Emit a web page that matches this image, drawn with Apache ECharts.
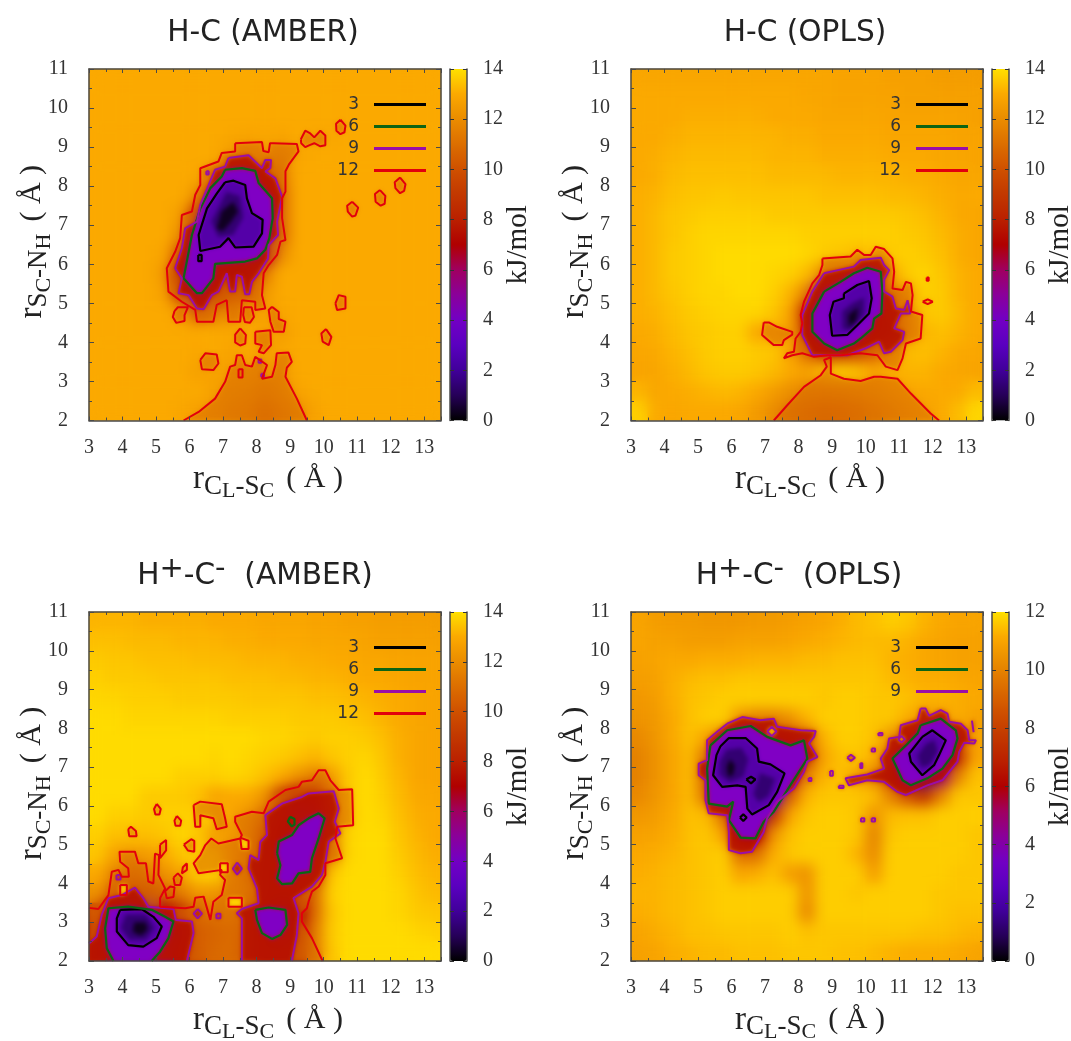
<!DOCTYPE html>
<html>
<head>
<meta charset="utf-8">
<title>PMF maps</title>
<script src="https://cdn.jsdelivr.net/npm/echarts@6/dist/echarts.min.js"></script>
<style>
html, body { margin: 0; background: #fff; }
#chart { width: 1071px; height: 1041px; }
</style>
</head>
<body>
<div id="chart"></div>
<script>
// cell centres of the free energy maps, 0.5 A wide
const xCells = [3.25,3.75,4.25,4.75,5.25,5.75,6.25,6.75,7.25,7.75,8.25,8.75,9.25,9.75,10.25,10.75,11.25,11.75,12.25,12.75,13.25];
const yCells = [2.25,2.75,3.25,3.75,4.25,4.75,5.25,5.75,6.25,6.75,7.25,7.75,8.25,8.75,9.25,9.75,10.25,10.75];
const palette = ['#000000','#260058','#40009a','#5a00c0','#7200c4','#8a009a','#a00060','#b00000','#ba2000','#c23800','#cf5000','#dc6e00','#ea8c00','#fba900','#ffe000'];

// rows run from y = 10.75 down to y = 2.25
const hcAmberGrid = [
[13,13,13,13,13,13,13,13,13,13,13,13,13,13,13,13,13,13,13,13,13],
[13,13,13,13,13,13,13,13,13,13,13,13,13,13,13,13,13,13,13,13,13],
[13,13,13,13,13,13,13,13,13,13,13,13,13,13,13,13,13,13,13,13,13],
[13,13,13,13,13,13,13,13,12.9,12.8,12.9,12.8,13,12.9,12.9,13,13,13,13,13,13],
[13,13,13,13,13,13,13,13,12.4,12,12.4,12,12.9,13,13,13,13,13,13,13,13],
[13,13,13,13,13,13,12.9,12,9,8,9.5,11.5,13,13,13,13,13,13,13,13,13],
[13,13,13,13,13,13,12,8,4.5,4.5,7,11,13,13,13,13,13,13,13,13,13],
[13,13,13,13,13,12.6,8,3.5,1,3,5,11,13,13,13,13,13,13,13,13,13],
[13,13,13,13,13,12,6,2.5,2,3,5.5,11,13,13,13,13,13,13,13,13,13],
[13,13,13,13,12.8,10,4.5,3.5,3.5,3.5,6.5,12,13,13,13,13,13,13,13,13,13],
[13,13,13,13,12.4,7,4.5,6,7,8,11.5,13,13,13,13,13,13,13,13,13,13],
[13,13,13,13,12.7,9,5,8.5,10,10.5,12.4,13,13,13,13,13,13,13,13,13,13],
[13,13,13,13,13,12.6,10.5,11.5,12,12.6,12.7,12.9,13,13,13,13,13,13,13,13,13],
[13,13,13,13,13,13,13,13,12.9,13,12.8,12.6,13,13,13,13,13,13,13,13,13],
[13,13,13,13,13,13,12.9,13,12.8,13,12.6,12.9,13,13,13,13,13,13,13,13,13],
[13,13,13,13,13,13,12.7,12.8,12.6,12.6,12.3,12.4,13,13,13,13,13,13,13,13,13],
[13,13,13,13,13,13,13,12.7,12.3,12.2,11.8,12.2,12.8,13,13,13,13,13,13,13,13],
[13,13,13,13,13,12.9,12.7,12.4,12,11.8,11.2,11.7,12.2,12.8,13,13,13,13,13,13,13]
];
const hcOplsGrid = [
[12.9,12.9,12.9,12.9,12.9,12.9,12.9,12.9,12.9,12.9,12.9,12.9,12.8,12.8,12.8,12.7,12.7,12.7,12.6,12.6,12.6],
[13,13,13,13,13,13,13,13,13,13,12.9,12.9,12.8,12.8,12.8,12.8,12.7,12.7,12.7,12.7,12.7],
[13,13,13,13.1,13.1,13.1,13.1,13.1,13,13,13,12.9,12.9,12.9,12.9,12.8,12.8,12.8,12.8,12.8,12.7],
[13,13,13.1,13.2,13.2,13.2,13.2,13.2,13.2,13.1,13.1,13,13,13,13,12.9,12.9,12.9,12.9,12.8,12.8],
[13,13.1,13.2,13.3,13.3,13.3,13.3,13.3,13.2,13.2,13.2,13.1,13.1,13.1,13.1,13,13,13,12.9,12.9,12.8],
[13,13.1,13.3,13.4,13.4,13.4,13.4,13.4,13.3,13.3,13.3,13.3,13.2,13.2,13.2,13.2,13.1,13.1,13,12.9,12.9],
[13.1,13.2,13.4,13.5,13.5,13.6,13.5,13.5,13.5,13.5,13.5,13.4,13.4,13.4,13.4,13.3,13.3,13.2,13.1,13,13],
[13.1,13.3,13.5,13.6,13.7,13.7,13.7,13.7,13.6,13.6,13.6,13.6,13.6,13.6,13.6,13.6,13.5,13.4,13.2,13,12.9],
[13.1,13.3,13.5,13.7,13.8,13.8,13.8,13.8,13.8,13.8,13.7,13.7,13.7,13.7,13.7,13.7,13.6,13.5,13.3,13.1,12.9],
[13.1,13.3,13.6,13.7,13.8,13.9,13.9,13.9,13.9,13.9,13.8,13.6,13.5,13.3,13.4,13.6,13.7,13.6,13.4,13.1,12.9],
[13.1,13.3,13.6,13.7,13.8,13.9,13.9,13.9,13.8,13.7,13.3,11.8,11,11,11.5,12.8,13.6,13.8,13.5,13.2,13],
[13.1,13.3,13.5,13.7,13.8,13.8,13.9,13.9,13.7,13.2,11.5,5,4,5,8.5,11,12.7,13.7,13.6,13.2,13],
[13.1,13.2,13.4,13.6,13.7,13.8,13.8,13.8,13.5,12.8,8,2.5,1.5,3,7,10,12,13.5,13.6,13.3,13],
[13,13.1,13.3,13.5,13.6,13.7,13.7,12.9,13,12.6,9,4,2.5,5.5,8,9,12,13.2,13.4,13.2,13],
[12.9,13,13.2,13.4,13.6,13.7,13.7,13.6,13.5,12.8,11,9,9,9.5,10.5,12.3,13.3,13.4,13.2,13,12.9],
[12.8,12.9,13.1,13.3,13.5,13.6,13.6,13.5,13.3,13,12.7,13.3,13.6,13.4,12.8,13.1,13.2,13.2,13,12.9,12.8],
[13.2,12.9,13,13.1,13.2,13.3,13.2,13,12.6,12.1,11.8,11.7,11.8,12,12.2,12.5,12.8,13,13,13,13.3],
[13.7,13,12.9,13,13,13,12.9,12.5,12,11.4,11,10.8,10.9,11.2,11.6,12,12.4,12.7,13,13.3,13.8]
];
const hhAmberGrid = [
[13.2,13.2,13.2,13.1,13.1,13.1,13.1,13,13,13,12.9,12.9,12.9,12.8,12.8,12.7,12.7,12.6,12.6,12.6,12.6],
[13.4,13.4,13.3,13.3,13.3,13.2,13.2,13.2,13.1,13.1,13,13,13,12.9,12.9,12.9,12.8,12.7,12.7,12.7,12.7],
[13.6,13.5,13.5,13.4,13.4,13.4,13.3,13.3,13.3,13.2,13.2,13.2,13.1,13.1,13,13,12.9,12.9,12.8,12.8,12.8],
[13.7,13.6,13.6,13.6,13.5,13.5,13.5,13.5,13.4,13.4,13.4,13.3,13.3,13.2,13.2,13.1,13,13,12.9,12.8,12.8],
[13.8,13.8,13.7,13.7,13.7,13.6,13.6,13.6,13.6,13.5,13.5,13.5,13.5,13.4,13.4,13.3,13.2,13.1,13,12.9,12.8],
[13.9,13.9,13.8,13.8,13.8,13.8,13.8,13.8,13.7,13.7,13.7,13.7,13.6,13.6,13.6,13.5,13.4,13.2,13,12.9,12.8],
[13.9,13.9,13.9,13.9,13.9,13.9,13.9,13.9,13.9,13.9,13.8,13.8,13.7,13.6,13.7,13.7,13.6,13.4,13.1,12.9,12.8],
[13.9,13.9,13.9,13.9,13.9,13.9,13.9,13.8,13.9,13.8,13.7,13.6,13.4,13.2,13.5,13.7,13.8,13.5,13.1,12.9,12.8],
[13.9,13.9,13.9,13.9,13.9,13.7,13.7,13.7,13.8,13.7,13.4,13,12.2,11.5,12.5,13.6,13.9,13.6,13.2,12.9,12.8],
[13.9,13.9,13.9,13.6,13.6,13.6,13.4,12.8,13,13,12.2,9,7,7,11.5,13.6,13.9,13.7,13.3,13,12.9],
[13.9,13.7,13.7,13.6,13.7,13.7,13.7,13.4,12.8,12.2,11,8,5,6,11,13.5,13.9,13.8,13.4,13.1,13],
[13.7,13.4,13.4,13.4,13.5,13.8,13.5,12.6,12.4,12,9.5,7,5,7.5,11.5,13.8,13.9,13.9,13.5,13.2,13],
[13.5,12.8,12.4,12.6,13,13.5,13.5,13.6,12.5,11.5,9,7.5,5.5,8.5,11.5,13.8,13.9,13.9,13.6,13.3,13.1],
[13,11.8,11,11.5,12.2,12.8,13.6,13.7,12.3,11.2,8.5,8,8,9,13.5,13.9,13.9,13.9,13.7,13.4,13.2],
[12.2,10.5,9.5,9.8,10.8,11.5,12.4,12.3,12,11.6,8.5,8,8.5,11,13.7,13.9,13.9,13.9,13.8,13.5,13.3],
[9.5,7,4,3.5,7,8.5,11,11.5,11.5,10.5,7.5,5,7,11,13.5,13.9,13.9,13.9,13.8,13.6,13.5],
[8,5,2,1,3,6.5,10,10.5,11,10,7.5,5.5,8,11.5,13.6,13.9,13.9,13.9,13.9,13.8,13.7],
[8,5.5,4.5,4.5,5.5,7.5,10,10.8,11,9.5,8,8,9,11.5,13.5,13.9,13.9,13.9,13.9,13.9,13.9]
];
const hhOplsGrid = [
[11,10.8,10.7,10.7,10.6,10.6,10.6,10.7,10.7,10.8,10.9,11,11.2,11.4,11.5,11.7,11.6,11.3,11.1,11,11],
[11,10.9,10.9,10.8,10.8,10.8,10.9,10.9,10.9,11,11.1,11.2,11.3,11.4,11.4,11.4,11.3,11.1,11,10.9,10.9],
[10.9,11,11.1,11.1,11.2,11.2,11.2,11.3,11.3,11.3,11.4,11.4,11.5,11.5,11.5,11.3,11.2,11.1,11,10.9,10.9],
[10.8,10.9,11.2,11.4,11.5,11.5,11.6,11.6,11.6,11.6,11.6,11.6,11.6,11.6,11.6,11.4,11.3,11.2,11.2,11.1,11],
[10.6,10.8,11.2,11.5,11.6,11.7,11.7,11.7,11.7,11.7,11.7,11.6,11.7,11.7,11.6,11.6,11.5,11.3,11.3,11.2,11.1],
[10.5,10.7,11.1,11.5,11.7,11.7,10.5,10,10,10.5,11.3,11.7,11.7,11.7,11.6,11.6,11.2,10.5,10.5,11.2,10.9],
[10.2,10.6,11.1,11.5,11,9.5,7,7,7.5,8,9,11.3,11.7,11.7,11.5,10.5,8.5,6,6,8.5,11],
[10,10.5,11,11.4,9.5,3.5,2.5,3,5.5,6,8,11,11.5,11.6,11.2,9,6,2.5,3,7,11],
[10,10.5,11,11.4,9,3,1.5,3.5,2.5,5.5,10,11.3,11.5,10.8,10,8,5,2,5,10,11.5],
[10.2,10.6,11,11.4,9.5,5.5,4.5,3,3,9,11.3,11.6,11.6,11.6,11.4,10,8.5,7.5,10,11.6,11.6],
[10.6,10.8,11.1,11.5,11.4,9.5,5.5,3,7.5,11,11.6,11.7,11.7,11.6,10.5,11.4,11.5,11.5,11.7,11.7,11.7],
[10.9,11,11.2,11.5,11.6,11,6,6,10.5,11.5,11.7,11.7,11.7,11.6,10,11.6,11.7,11.7,11.7,11.7,11.6],
[11.1,11.2,11.3,11.5,11.6,11.7,9.5,9.5,11.2,11.6,11.7,11.7,11.7,11.3,10.2,11.7,11.7,11.7,11.7,11.7,11.6],
[11.2,11.3,11.4,11.5,11.6,11.7,11,11.2,11.5,10.8,10.5,11.7,11.7,11.7,10.8,11.7,11.7,11.7,11.7,11.6,11.6],
[11.3,11.3,11.4,11.5,11.6,11.7,11.7,11.7,11.7,11.7,10.5,11.7,11.7,11.6,11.7,11.7,11.7,11.7,11.6,11.6,11.6],
[11.2,11.3,11.4,11.5,11.6,11.7,11.7,11.7,11.7,11.7,10.2,11.7,11.7,11.7,11.7,11.7,11.7,11.7,11.6,11.5,11.5],
[11,11.2,11.3,11.5,11.5,11.6,11.6,11.6,11.6,11.7,11.5,11.6,11.6,11.6,11.6,11.6,11.6,11.5,11.5,11.4,11.3],
[10.9,11,11.2,11.3,11.4,11.4,11.5,11.5,11.5,11.6,11.6,11.6,11.5,11.5,11.4,11.3,11.2,11.2,11.2,11.1,11]
];

// contour loops, [r(CL-SC), r(SC-NH)] in angstrom
const hcAmber12 = [
[[7.36,9.10],[8.16,9.13],[8.2,8.9],[8.36,8.87],[8.4,9.1],[8.51,9.10],[9.20,9.08],[9.25,8.89],[8.96,8.55],[8.86,8.38],[8.86,7.86],[8.76,7.69],[8.76,7.18],[8.86,6.62],[8.71,6.58],[8.61,6.24],[8.36,5.98],[8.21,5.77],[8.16,5.21],[8.26,4.87],[7.96,4.83],[7.96,5.04],[7.56,5.08],[7.51,4.53],[7.16,4.53],[7.11,5.08],[6.81,4.96],[6.71,4.53],[6.22,4.53],[6.17,4.83],[5.77,5.04],[5.37,5.30],[5.32,5.90],[5.57,6.32],[5.72,6.67],[5.77,7.26],[6.07,7.35],[6.17,7.78],[6.32,8.03],[6.32,8.46],[6.86,8.63],[6.96,8.85],[7.36,8.89]],
[[5.55,4.8],[5.65,4.9],[5.95,4.9],[5.85,4.7],[5.85,4.55],[5.6,4.5],[5.5,4.65]],
[[7.62,4.9],[7.85,4.9],[7.92,4.65],[7.8,4.5],[7.65,4.52],[7.6,4.7]],
[[8.46,4.91],[8.66,4.78],[8.66,4.6],[8.86,4.53],[8.81,4.27],[8.51,4.27],[8.41,4.53],[8.36,4.83]],
[[7.51,4.36],[7.68,4.19],[7.66,3.97],[7.51,3.92],[7.36,4.0],[7.36,4.2]],
[[7.96,4.27],[8.41,4.31],[8.43,3.93],[8.21,3.72],[8.06,3.76],[8.16,3.93],[7.96,3.97]],
[[6.32,3.55],[6.47,3.72],[6.81,3.69],[6.86,3.46],[6.71,3.29],[6.37,3.31]],
[[10.07,4.34],[10.23,4.14],[10.15,3.93],[9.97,4.02],[9.93,4.23]],
[[10.35,5.0],[10.45,5.21],[10.65,5.17],[10.65,4.87],[10.40,4.83]],
[[10.85,7.6],[11.03,7.45],[10.95,7.25],[10.85,7.22],[10.72,7.35],[10.70,7.5]],
[[11.68,7.9],[11.84,7.75],[11.82,7.55],[11.7,7.5],[11.55,7.6],[11.53,7.8]],
[[12.28,8.22],[12.44,8.05],[12.4,7.88],[12.28,7.82],[12.14,7.95],[12.12,8.1]],
[[10.5,9.7],[10.65,9.55],[10.62,9.38],[10.5,9.33],[10.38,9.42],[10.37,9.6]],
[[9.32,9.2],[9.45,9.42],[9.6,9.35],[9.72,9.25],[9.9,9.42],[10.05,9.3],[10.05,9.05],[9.9,9.02],[9.72,9.1],[9.58,9.05],[9.45,9.0],[9.33,9.1]],
[[5.82,2],[6.27,2.22],[6.76,2.56],[7.06,2.99],[7.21,3.38],[7.36,3.42],[7.41,3.67],[7.56,3.67],[7.66,3.42],[7.86,3.38],[7.96,3.63],[8.31,3.42],[8.16,3.07],[8.46,3.12],[8.56,3.42],[8.6,3.72],[8.95,3.74],[9.05,3.5],[8.9,3.35],[8.86,3.12],[9.2,2.56],[9.5,2]],
[[7.46,3.31],[7.58,3.31],[7.58,3.1],[7.46,3.1]]
];
const hcAmber9 = [
[[7.16,8.72],[7.76,8.79],[8.16,8.46],[8.26,8.67],[8.43,8.67],[8.41,8.46],[8.26,8.38],[8.56,8.2],[8.76,7.73],[8.61,7.09],[8.64,6.75],[8.36,6.49],[8.34,6.15],[8.06,5.77],[7.86,5.55],[7.78,5.23],[7.66,5.23],[7.56,5.68],[7.41,5.73],[7.36,5.30],[7.21,5.30],[7.11,5.77],[6.86,5.30],[6.66,5.21],[6.42,4.85],[6.22,4.87],[5.97,5.21],[5.67,5.26],[5.77,5.64],[5.57,5.9],[5.77,6.41],[5.87,6.92],[6.22,7.09],[6.32,7.52],[6.57,8.03],[6.76,8.42],[7.06,8.5]],
[[6.5,8.38],[6.57,8.38],[6.57,8.3],[6.5,8.3]],
[[8.06,3.56],[8.14,3.56],[8.14,3.48],[8.06,3.48]],
[[8.14,3.2],[8.22,3.2],[8.22,3.12],[8.14,3.12]]
];
const hcAmber6 = [
[[7.06,8.42],[7.56,8.46],[7.96,8.39],[8.06,8.08],[8.46,7.69],[8.48,7.18],[8.38,6.67],[8.26,6.37],[8.01,6.15],[7.66,6.07],[6.76,6.01],[6.71,5.64],[6.37,5.26],[6.22,5.26],[5.82,5.64],[6.07,6.75],[6.32,7.43],[6.62,7.95],[6.96,8.25]]
];
const hcAmber3 = [
[[7.06,8.1],[7.31,8.14],[7.66,8.03],[7.71,7.69],[7.86,7.31],[8.18,7.14],[8.16,6.79],[7.91,6.45],[7.36,6.43],[7.16,6.67],[6.91,6.45],[6.32,6.34],[6.27,6.75],[6.52,7.43],[6.82,7.82]],
[[6.26,6.24],[6.36,6.24],[6.36,6.08],[6.26,6.08]]
];
const hcAmberCore = [[[7.1,7.85],[7.5,7.75],[7.6,7.2],[7.3,6.75],[6.85,6.7],[6.65,7.1]]];
const hcAmberDeep = [[[7.3,7.6],[7.45,7.35],[7.25,7.1],[7.0,6.85],[6.8,6.9],[6.95,7.35]]];

const hcOpls12 = [
[[8.71,6.15],[9.55,6.20],[9.75,6.37],[9.95,6.24],[10.15,6.24],[10.30,6.45],[10.55,6.39],[10.80,6.15],[10.85,5.81],[10.80,5.38],[11.10,5.34],[11.20,5.55],[11.35,5.51],[11.40,5.21],[11.35,4.79],[11.69,4.70],[11.64,4.10],[11.20,3.97],[11.10,3.59],[10.95,3.29],[10.60,3.38],[10.35,3.67],[9.85,3.72],[9.25,3.67],[8.86,3.67],[8.46,3.63],[8.11,3.72],[7.81,3.67],[7.56,3.59],[7.66,3.72],[7.86,3.76],[7.91,4.10],[8.06,4.27],[8.11,4.49],[8.06,4.70],[8.16,5.04],[8.41,5.51],[8.61,5.72],[8.71,5.98]],
[[6.96,4.51],[7.11,4.51],[7.36,4.40],[7.81,4.27],[7.81,4.20],[7.56,4.06],[7.51,3.93],[7.26,3.93],[6.91,4.19]],
[[11.82,5.66],[11.88,5.66],[11.88,5.58],[11.82,5.58]],
[[11.70,5.04],[11.85,5.10],[12.0,5.04],[11.85,4.98]],
[[7.26,2],[7.66,2.39],[8.16,2.86],[8.66,3.16],[8.84,3.38],[8.76,3.55],[8.96,3.62],[8.96,3.2],[9.35,3.07],[9.85,3.01],[10.25,3.12],[10.45,3.12],[10.95,3.07],[11.35,2.69],[11.94,2.18],[12.19,2]]
];
const hcOpls9 = [
[[8.76,5.77],[9.65,5.94],[9.85,6.11],[10.45,6.17],[10.55,5.98],[10.70,5.85],[10.55,5.60],[10.55,5.30],[10.80,5.17],[10.90,4.87],[11.15,4.83],[11.25,5.08],[11.33,4.74],[11.05,4.74],[10.85,4.36],[11.15,4.27],[11.10,4.06],[10.75,3.76],[10.55,3.72],[10.40,4.02],[10.0,3.85],[9.45,3.67],[8.95,3.67],[8.41,3.67],[8.11,4.19],[8.11,4.70],[8.41,5.30]]
];
const hcOpls6 = [
[[8.76,5.30],[9.25,5.55],[9.65,5.77],[10.05,5.91],[10.45,5.81],[10.50,5.30],[10.47,4.74],[10.25,4.61],[10.2,4.36],[9.85,4.10],[9.65,3.97],[9.15,3.80],[8.76,3.97],[8.41,4.27],[8.41,4.74]]
];
const hcOpls3 = [
[[9.35,5.25],[9.75,5.47],[10.10,5.57],[10.18,5.13],[10.10,4.74],[9.75,4.44],[9.45,4.19],[9.0,4.17],[8.93,4.70],[9.04,5.04],[9.35,5.13]]
];
const hcOplsCore = [[[9.95,5.15],[9.95,4.7],[9.55,4.3],[9.3,4.35],[9.3,4.8],[9.6,5.0]]];
const hcOplsDeep = [[[9.78,4.9],[9.72,4.55],[9.5,4.4],[9.48,4.7]]];

const hhAmber12 = [
[[3,3.37],[3.28,3.34],[3.58,3.70],[3.68,4.30],[3.88,4.35],[3.98,4.17],[4.19,4.17],[4.17,4.39],[3.93,4.56],[3.91,4.82],[4.37,4.82],[4.47,4.52],[4.70,4.52],[4.77,4.05],[4.92,4.0],[4.97,4.77],[5.09,4.73],[5.07,4.22],[5.27,3.87],[5.12,3.62],[5.12,3.4],[5.87,3.36],[6.12,3.4],[6.17,3.63],[6.42,3.66],[6.62,3.06],[6.71,3.53],[6.96,3.70],[7.06,4.09],[6.91,4.22],[6.96,4.35],[6.27,4.26],[6.12,4.52],[6.32,4.73],[6.47,4.99],[6.65,5.16],[6.86,5.03],[7.51,5.16],[7.56,5.25],[7.36,5.59],[7.36,5.72],[7.86,5.85],[8.21,5.81],[8.36,6.11],[8.86,6.41],[9.25,6.49],[9.35,6.62],[9.65,6.66],[9.85,6.92],[10.05,6.92],[10.20,6.66],[10.45,6.41],[10.85,6.43],[10.88,5.5],[10.40,5.46],[10.35,5.16],[10.55,4.65],[10.05,4.52],[10.05,4.22],[9.85,3.92],[9.65,3.79],[9.55,3.53],[9.50,3.36],[9.35,3.23],[9.35,3.02],[9.65,2.59],[9.97,2]],
[[4.17,5.4],[4.25,5.46],[4.4,5.35],[4.42,5.22],[4.2,5.22]],
[[5.02,6.05],[5.14,5.92],[5.1,5.78],[4.98,5.78],[4.94,5.92]],
[[5.62,5.74],[5.75,5.62],[5.72,5.49],[5.58,5.49],[5.55,5.62]],
[[5.83,5.0],[6.05,5.14],[6.14,5.1],[6.14,4.82],[5.95,4.85]],
[[5.12,5.0],[5.3,5.12],[5.3,4.85],[5.12,4.65]],
[[5.92,4.52],[5.92,4.35],[5.77,4.26],[5.8,4.42]],
[[5.52,4.15],[5.65,4.26],[5.77,4.15],[5.72,3.96],[5.56,3.96]],
[[5.27,3.8],[5.42,3.92],[5.55,3.9],[5.52,3.65],[5.32,3.62]],
[[6.12,6.02],[6.32,6.11],[6.96,6.04],[7.06,5.68],[7.11,5.46],[6.81,5.40],[6.71,5.68],[6.32,5.76],[6.32,5.46],[6.17,5.46]]
];
const hhAmberHoles = [
[[3.93,3.96],[4.13,3.96],[4.13,3.70],[3.93,3.70]],
[[7.51,5.18],[7.76,5.1],[7.76,4.89],[7.55,4.89]],
[[6.91,4.52],[7.14,4.52],[7.14,4.29],[6.91,4.29]],
[[7.16,3.63],[7.56,3.63],[7.56,3.4],[7.16,3.4]]
];
const hhAmber9 = [
[[3,2.45],[3.23,2.63],[3.38,3.19],[3.58,3.62],[3.98,3.70],[4.37,3.89],[4.62,3.62],[4.77,3.4],[5.52,3.34],[5.59,3.06],[6.07,3.02],[6.12,2.72],[5.92,2]],
[[7.56,2],[7.56,3.1],[7.41,3.23],[7.56,3.34],[8.06,3.49],[8.01,3.87],[7.76,4.39],[7.81,4.73],[8.06,4.6],[8.11,5.07],[8.31,5.25],[8.26,5.76],[8.76,6.06],[9.35,6.23],[9.55,6.32],[10.3,6.38],[10.45,5.93],[10.33,5.59],[10.5,5.29],[10.15,5.08],[10.05,4.56],[9.95,4.22],[9.65,3.92],[9.1,3.62],[9.25,3.23],[9.2,2.67],[9.05,2]],
[[6.24,3.34],[6.37,3.22],[6.24,3.1],[6.12,3.22]],
[[6.8,3.22],[6.92,3.22],[6.92,3.1],[6.8,3.1]],
[[7.42,4.54],[7.56,4.38],[7.42,4.23],[7.29,4.38]],
[[3.82,4.22],[3.94,4.22],[3.94,4.1],[3.82,4.1]]
];
const hhAmber6 = [
[[4.87,2],[5.12,2.24],[5.37,2.59],[5.52,3.02],[5.27,3.14],[4.87,3.32],[4.17,3.40],[3.58,3.36],[3.48,2.84],[3.53,2.33],[3.73,2]],
[[7.96,3.32],[8.36,3.38],[8.86,3.32],[8.91,2.93],[8.71,2.67],[8.46,2.57],[8.16,2.72],[8.01,3.06]],
[[8.61,4.78],[8.66,5.08],[9.06,5.25],[9.25,5.5],[9.55,5.68],[9.85,5.81],[10.03,5.68],[9.85,5.16],[9.65,4.65],[9.6,4.3],[9.25,4.26],[9.06,4.0],[8.76,3.98],[8.61,4.13],[8.71,4.47]]
];
const hhAmberIslands = [[[9.0,5.72],[9.13,5.66],[9.13,5.52],[9.05,5.47],[8.93,5.6]]];
const hhAmber3 = [
[[3.93,3.32],[4.57,3.34],[4.92,3.14],[5.17,2.89],[5.02,2.59],[4.62,2.37],[4.17,2.41],[3.83,2.76],[3.83,3.1]]
];
const hhAmberCore = [[[4.1,3.2],[4.7,3.2],[4.95,2.85],[4.7,2.55],[4.2,2.55],[3.95,2.85]]];
const hhAmberDeep = [[[4.35,3.0],[4.7,3.0],[4.75,2.8],[4.55,2.65],[4.3,2.75]]];

const hhOpls9 = [
[[5.87,8.12],[6.32,8.29],[6.86,8.21],[7.26,8.25],[7.36,8.04],[8.06,7.95],[8.51,7.93],[8.46,7.78],[8.31,7.61],[8.56,7.26],[8.26,7.14],[8.16,6.88],[7.86,6.45],[7.36,6.11],[7.06,5.68],[6.96,5.33],[6.61,4.82],[6.27,4.78],[5.92,4.86],[5.92,5.33],[5.87,5.76],[5.32,5.81],[5.22,6.15],[5.22,6.66],[5.02,6.79],[5.02,7.09],[5.27,7.18],[5.27,7.69],[5.57,7.91]],
[[11.64,8.51],[11.79,8.51],[11.89,8.32],[12.24,8.47],[12.44,8.38],[12.49,8.17],[12.84,8.12],[13.04,7.95],[13.09,7.69],[13.29,7.69],[13.24,7.61],[12.94,7.63],[12.79,7.39],[12.74,7.14],[12.29,6.66],[11.84,6.53],[11.2,6.28],[10.95,6.36],[10.55,6.62],[10.05,6.66],[9.5,6.53],[9.4,6.71],[10.05,6.81],[10.55,6.96],[10.45,7.22],[10.65,7.48],[10.7,7.74],[11.0,7.78],[11.05,8.08],[11.55,8.21]],
[[9.45,7.24],[9.56,7.32],[9.68,7.24],[9.56,7.16]],
[[13.17,8.2],[13.22,8.2],[13.22,7.9],[13.17,7.9]],
[[9.84,7.1],[9.9,7.1],[9.9,6.98],[9.84,6.98]],
[[10.18,7.48],[10.28,7.48],[10.28,7.4],[10.18,7.4]],
[[9.86,5.68],[9.96,5.68],[9.96,5.6],[9.86,5.6]],
[[10.18,5.68],[10.28,5.68],[10.28,5.6],[10.18,5.6]],
[[8.94,6.9],[9.02,6.9],[9.02,6.78],[8.94,6.78]],
[[9.2,6.52],[9.34,6.52],[9.34,6.46],[9.2,6.46]],
[[10.38,7.88],[10.5,7.88],[10.5,7.82],[10.38,7.82]],
[[8.3,6.72],[8.38,6.72],[8.38,6.64],[8.3,6.64]]
];
const hhOplsHoles = [
[[7.06,7.92],[7.2,8.04],[7.34,7.92],[7.2,7.8]],
[[10.97,7.72],[11.07,7.8],[11.17,7.72],[11.07,7.63]]
];
const hhOpls6 = [
[[5.37,7.56],[5.87,7.95],[6.57,8.06],[7.06,7.78],[7.76,7.56],[8.16,7.69],[8.26,7.22],[7.76,6.54],[7.26,5.85],[6.96,5.59],[6.71,5.16],[6.27,5.18],[5.92,5.63],[6.05,6.11],[5.87,5.98],[5.32,6.06],[5.27,6.96]],
[[11.64,8.08],[12.24,8.25],[12.69,7.95],[12.74,7.74],[12.59,7.31],[12.29,6.96],[11.84,6.71],[11.35,6.53],[11.1,6.66],[10.8,7.22],[11.2,7.56],[11.55,7.87]]
];
const hhOpls3 = [
[[5.67,7.54],[5.92,7.75],[6.42,7.75],[6.76,7.48],[6.81,7.14],[7.16,7.07],[7.58,6.84],[7.36,6.36],[7.11,6.02],[6.61,5.78],[6.47,5.93],[6.42,6.49],[6.17,6.53],[5.72,6.49],[5.45,6.79],[5.55,7.31]],
[[11.69,7.78],[11.99,7.95],[12.39,7.69],[12.19,7.31],[12.04,7.05],[11.69,6.79],[11.35,7.14],[11.3,7.35]]
];
const hhOplsIslands = [
[[6.44,6.68],[6.58,6.75],[6.71,6.68],[6.58,6.58]],
[[6.25,5.7],[6.35,5.78],[6.45,5.7],[6.35,5.61]]
];
const hhOplsCore = [
[[5.85,7.45],[6.3,7.5],[6.5,7.2],[6.35,6.75],[5.95,6.6],[5.65,6.8],[5.65,7.15]],
[[11.8,7.6],[12.05,7.7],[12.15,7.4],[11.9,7.05],[11.65,7.0],[11.55,7.3]],
[[6.85,6.85],[7.3,6.7],[7.1,6.25],[6.8,6.1],[6.65,6.3]]
];
const hhOplsDeep = [[[5.95,7.2],[6.1,7.05],[6.05,6.8],[5.9,6.75],[5.85,7.0]]];

const panels = [
  {title: 'H-C (AMBER)', titleX: 258, titleY: 13, left: 89, top: 69, h: 351.5, max: 14, grid: hcAmberGrid,
    c12: hcAmber12, c9: hcAmber9, c6: hcAmber6, c3: hcAmber3, holes: [], islands: [], core: hcAmberCore, deep: hcAmberDeep},
  {title: 'H-C (OPLS)', titleX: 800, titleY: 13, left: 631, top: 69, h: 351.5, max: 14, grid: hcOplsGrid,
    c12: hcOpls12, c9: hcOpls9, c6: hcOpls6, c3: hcOpls3, holes: [], islands: [], core: hcOplsCore, deep: hcOplsDeep},
  {title: '{n|H}{s|+}{n|-C}{s|-}{n|  (AMBER)}', titleX: 250, titleY: 550, left: 89, top: 612, h: 349, max: 14, grid: hhAmberGrid,
    c12: hhAmber12, c9: hhAmber9, c6: hhAmber6, c3: hhAmber3, holes: hhAmberHoles, islands: hhAmberIslands, core: hhAmberCore, deep: hhAmberDeep},
  {title: '{n|H}{s|+}{n|-C}{s|-}{n|  (OPLS)}', titleX: 794, titleY: 550, left: 631, top: 612, h: 349, max: 12, grid: hhOplsGrid,
    c12: [], c9: hhOpls9, c6: hhOpls6, c3: hhOpls3, holes: hhOplsHoles, islands: hhOplsIslands, core: hhOplsCore, deep: hhOplsDeep}
];

const serif = '"Liberation Serif"';
const frameColor = '#4a4a4a';
const lineColors = {3: '#000000', 6: '#0d6414', 9: '#9a0ea6', 12: '#e2000c'};
const fillStyles = {
  12: {color: '#d86a00', opacity: 0.55},
  hole: {color: '#ffd400', opacity: 1},
  9: {color: '#b40a00', opacity: 0.85},
  6: {color: '#8000c4', opacity: 1},
  3: {color: '#5400a8', opacity: 1},
  core: {color: '#30006c', opacity: 0.9},
  deep: {color: '#0c0018', opacity: 0.9}
};
// canvas layers: plain cells, softened cells, softened contour fills, crisp lines and text
const RAW_LAYER = 0, SOFT_LAYER = 1, FILL_LAYER = 2, TOP_LAYER = 3;

const onFrame = p => p[0] === 3 || p[1] === 2;
const isOpen = loop => onFrame(loop[0]) && onFrame(loop[loop.length - 1]);

function loopsToLine(loops) {
  const out = [];
  loops.forEach(loop => {
    loop.forEach(p => out.push(p));
    if (!isOpen(loop)) out.push(loop[0]);
    out.push(['-', '-']);
  });
  return out;
}

function fillLoop(loop) {
  // a contour running from the left edge to the bottom edge encloses the corner too
  if (loop[0][0] === 3 && loop[loop.length - 1][1] === 2 && loop[0][1] !== 2) return [[3, 2]].concat(loop);
  return loop;
}

const nameRich = {
  r: {fontFamily: serif, fontSize: 33, color: '#222', padding: [0, 0, 0, 8]},
  a: {fontFamily: serif, fontSize: 27, color: '#222', padding: [14, 0, 0, 0]},
  b: {fontFamily: serif, fontSize: 22, color: '#222', padding: [24, 0, 0, 0]},
  u: {fontFamily: serif, fontSize: 30, color: '#222', padding: [0, 2, 0, 12]}
};

const option = {
  animation: false,
  title: [], grid: [], xAxis: [], yAxis: [], visualMap: [], legend: [], series: []
};

panels.forEach((p, i) => {
  const width = 352;
  option.title.push({
    text: p.title, left: p.titleX, top: p.titleY, textAlign: 'center', zlevel: TOP_LAYER,
    textStyle: {
      fontFamily: '"DejaVu Sans"', fontWeight: 'normal', fontSize: 29.6, color: '#222',
      rich: {
        n: {fontFamily: '"DejaVu Sans"', fontSize: 29.6, color: '#222'},
        s: {fontFamily: '"DejaVu Sans"', fontSize: 29, color: '#222', padding: [0, 0, 14, 0]}
      }
    }
  });

  // heat map grid, then the colour bar grid next to it
  option.grid.push({left: p.left, top: p.top, width: width, height: p.h, outerBoundsMode: 'none'});
  option.grid.push({left: p.left + width + 9, top: p.top, width: 17, height: p.h, outerBoundsMode: 'none'});
  const g = i * 2;
  const xBase = option.xAxis.length;
  const yBase = option.yAxis.length;

  const tickStyle = {lineStyle: {color: frameColor, width: 1}};
  const lineStyle = {show: true, onZero: false, lineStyle: {color: frameColor, width: 1.5}};
  const xCommon = {type: 'value', gridIndex: g, min: 3, max: 13.5, interval: 1, z: 6, zlevel: TOP_LAYER, splitLine: {show: false}, axisLine: lineStyle,
    axisTick: Object.assign({inside: true, length: 4}, tickStyle),
    minorTick: Object.assign({show: true, splitNumber: 2, length: 3}, tickStyle)};
  const yCommon = {type: 'value', gridIndex: g, min: 2, max: 11, interval: 1, z: 6, zlevel: TOP_LAYER, splitLine: {show: false}, axisLine: lineStyle,
    axisTick: Object.assign({inside: true, length: 5}, tickStyle),
    minorTick: Object.assign({show: true, splitNumber: 2, length: 3}, tickStyle)};

  option.xAxis.push(Object.assign({}, xCommon, {
    position: 'bottom',
    axisLabel: {show: true, showMaxLabel: false, margin: 17, fontFamily: serif, fontSize: 20, color: '#333'},
    name: '{r|r}{a|C}{b|L}{a|-S}{b|C}{u|( Å )}',
    nameLocation: 'middle', nameGap: 36, nameMoveOverlap: false,
    nameTextStyle: {rich: nameRich}
  }));
  option.xAxis.push(Object.assign({}, xCommon, {position: 'top', axisLabel: {show: false}}));
  option.xAxis.push({type: 'category', gridIndex: g, data: xCells, show: false});
  option.xAxis.push({type: 'value', gridIndex: g + 1, min: 0, max: 1, show: false});

  option.yAxis.push(Object.assign({}, yCommon, {
    position: 'left',
    axisLabel: {show: true, margin: 21, fontFamily: serif, fontSize: 20, color: '#333'},
    name: '{r|r}{a|S}{b|C}{a|-N}{b|H}{u|( Å )}',
    nameLocation: 'middle', nameGap: 34, nameRotate: 90, nameMoveOverlap: false,
    nameTextStyle: {rich: nameRich}
  }));
  option.yAxis.push(Object.assign({}, yCommon, {position: 'right', axisLabel: {show: false}}));
  option.yAxis.push({type: 'category', gridIndex: g, data: yCells, show: false});
  const barAxis = {type: 'value', gridIndex: g + 1, min: 0, max: p.max, interval: 2, z: 6, zlevel: TOP_LAYER, splitLine: {show: false}, axisLine: lineStyle};
  option.yAxis.push(Object.assign({}, barAxis, {
    position: 'right',
    axisTick: {inside: true, length: 4, lineStyle: {color: '#333'}},
    axisLabel: {margin: 16, fontFamily: serif, fontSize: 20, color: '#333'},
    name: 'kJ/mol', nameLocation: 'middle', nameGap: 37, nameRotate: 90, nameMoveOverlap: false,
    nameTextStyle: {fontFamily: serif, fontSize: 29, color: '#222'}
  }));
  option.yAxis.push(Object.assign({}, barAxis, {
    position: 'left',
    axisTick: {inside: true, length: 4, lineStyle: {color: '#333'}},
    axisLabel: {show: false}
  }));

  const heatData = [];
  p.grid.forEach((row, r) => row.forEach((v, c) => heatData.push([c, yCells.length - 1 - r, v])));
  const heatIndex = option.series.length;
  [RAW_LAYER, SOFT_LAYER].forEach(layer => {
    option.series.push({
      type: 'heatmap', name: 'map' + i + layer, xAxisIndex: xBase + 2, yAxisIndex: yBase + 2, data: heatData,
      silent: true, zlevel: layer, itemStyle: {borderWidth: 0}
    });
  });

  option.visualMap.push({
    type: 'continuous', seriesIndex: [heatIndex, heatIndex + 1], min: 0, max: p.max, calculable: false, hoverLink: false,
    left: p.left + width + 9, top: p.top, itemWidth: 17, itemHeight: p.h, padding: 0, text: ['', ''], textGap: 0,
    showLabel: false, inRange: {color: palette}, z: 1, zlevel: TOP_LAYER
  });

  const fills = [];
  const addFills = (loops, key) => loops.forEach(l => fills.push({pts: fillLoop(l), style: fillStyles[key]}));
  addFills(p.c12, 12);
  addFills(p.holes, 'hole');
  addFills(p.c9, 9);
  addFills(p.holes.filter(() => p.max === 12), 'hole');
  addFills(p.c6, 6);
  addFills(p.islands.filter(() => p.max === 14), 9);
  addFills(p.c3, 3);
  addFills(p.core, 'core');
  addFills(p.deep, 'deep');
  option.series.push({
    type: 'custom', name: 'fill' + i, xAxisIndex: xBase, yAxisIndex: yBase, silent: true, zlevel: FILL_LAYER,
    data: fills.map((f, k) => [k, k]),
    encode: {x: 0, y: 1},
    renderItem: (params, api) => {
      const f = fills[params.dataIndex];
      return {type: 'polygon', shape: {points: f.pts.map(pt => api.coord(pt))}, style: {fill: f.style.color, opacity: f.style.opacity}};
    }
  });

  const levels = p.max === 12 ? [3, 6, 9] : [3, 6, 9, 12];
  levels.forEach(level => {
    const base = p['c' + level];
    let loops = base;
    if (level === 12 && p.holes.length) loops = base.concat(p.holes);
    if (level === 9 && p.max === 12) loops = base.concat(p.holes);
    if (level === 6) loops = base.concat(p.max === 14 ? p.islands : []);
    if (level === 3) loops = base.concat(p.max === 12 ? p.islands : []);
    option.series.push({
      type: 'line', name: String(level), xAxisIndex: xBase, yAxisIndex: yBase, data: loopsToLine(loops),
      symbol: 'none', showSymbol: false, connectNulls: false, silent: true, zlevel: TOP_LAYER,
      lineStyle: {color: lineColors[level], width: level > 6 ? 2 : 2.2},
      itemStyle: {color: lineColors[level]}
    });
  });

  option.legend.push({
    data: levels.map(String), selectedMode: false, orient: 'vertical', align: 'right', icon: 'rect', zlevel: TOP_LAYER,
    right: 1071 - (p.left + 337), top: p.top + 27, padding: 0,
    itemWidth: 52, itemHeight: 3, itemGap: 5,
    textStyle: {fontFamily: '"DejaVu Sans"', fontSize: 17, color: '#333', padding: [0, 10, 0, 0]}
  });
});

const chart = echarts.init(document.getElementById('chart'), null, {renderer: 'canvas'});
chart.setOption(option);

function softenLayers() {
  const painter = chart.getZr().painter;
  const frames = panels.map(p => 'M' + p.left + ' ' + p.top + 'h352v' + p.h + 'h-352z').join(' ');
  [[SOFT_LAYER, 'blur(7px)'], [FILL_LAYER, 'blur(2px)']].forEach(([z, blur]) => {
    const dom = painter.getLayer(z).dom;
    dom.style.filter = blur;
    dom.style.clipPath = 'path("' + frames + '")';
  });
}
chart.getZr().flush();
softenLayers();
chart.on('finished', softenLayers);
</script>
</body>
</html>
